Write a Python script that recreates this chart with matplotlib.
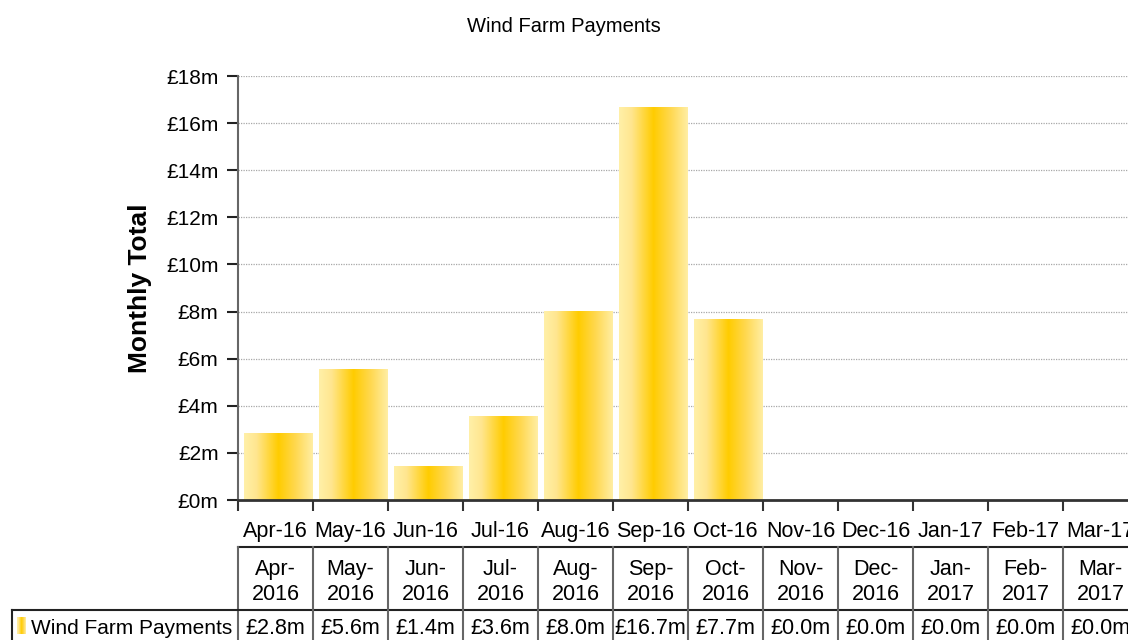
import numpy as np
import matplotlib
matplotlib.use("Agg")
import matplotlib.pyplot as plt
from matplotlib.colors import LinearSegmentedColormap
import matplotlib.transforms as mtransforms

plt.rcParams['font.family'] = ['Liberation Sans', 'DejaVu Sans']

months = ['Apr', 'May', 'Jun', 'Jul', 'Aug', 'Sep', 'Oct', 'Nov', 'Dec', 'Jan', 'Feb', 'Mar']
years = [2016, 2016, 2016, 2016, 2016, 2016, 2016, 2016, 2016, 2017, 2017, 2017]
values = [2.83, 5.56, 1.44, 3.57, 8.04, 16.68, 7.68, 0.0, 0.0, 0.0, 0.0, 0.0]
series_name = 'Wind Farm Payments'
yticks = [0, 2, 4, 6, 8, 10, 12, 14, 16, 18]

W, H = 1128, 640
fig = plt.figure(figsize=(W / 100, H / 100), dpi=100)
L, R, B, T = 238, 1138, 500, 76
ax = fig.add_axes([L / W, 1 - B / H, (R - L) / W, (B - T) / H])

n = len(months)
x = np.arange(n)
cmap = LinearSegmentedColormap.from_list(
    'g', [(0, '#FFF0A8'), (0.18, '#FFE690'), (0.5, '#FFCC00'), (0.75, '#FFD850'), (1, '#FFEEA4')])
grad = np.linspace(0, 1, 256).reshape(1, -1)
bars = ax.bar(x + 0.04, values, width=0.92, color='none', edgecolor='none', zorder=2)
for b in bars:
    if b.get_height() <= 0:
        continue
    x0, w, h = b.get_x(), b.get_width(), b.get_height()
    im = ax.imshow(grad, cmap=cmap, aspect='auto', extent=(x0, x0 + w, 0, h),
                   zorder=2, interpolation='bilinear')
    im.set_clip_path(b)

ax.set_xlim(-0.5, n - 0.5)
ax.set_ylim(0, 18)
ax.set_yticks(yticks)
ax.set_yticklabels([f'£{v}m' for v in yticks], fontsize=15)
ax.yaxis.grid(True, linestyle=(0, (1, 1)), color='#a8a8a8', linewidth=0.9, zorder=0)
ax.set_axisbelow(True)
ax.tick_params(axis='y', length=8, width=1.5, color='#222222', pad=6)

ax.set_xticks(x)
ax.set_xticklabels([f'{m}-{str(y)[2:]}' for m, y in zip(months, years)], fontsize=15.5)
ax.set_xticks(np.arange(n + 1) - 0.5, minor=True)
ax.tick_params(axis='x', which='major', length=0, pad=15)
ax.tick_params(axis='x', which='minor', length=8, width=1.5, color='#333333')

for s in ['top', 'right']:
    ax.spines[s].set_visible(False)
ax.spines['left'].set_color('#666666')
ax.spines['left'].set_linewidth(1.5)
ax.spines['bottom'].set_color('#333333')
ax.spines['bottom'].set_linewidth(2)

ax.set_ylabel('Monthly Total', fontsize=19, fontweight='bold', labelpad=10)
fig.text(564 / W, 1 - 27 / H, series_name, ha='center', va='center', fontsize=14.5)

# data table below
ov = fig.add_axes([0, 0, 1, 1], zorder=5)
ov.set_xlim(0, W)
ov.set_ylim(H, 0)
ov.axis('off')
tr = mtransforms.blended_transform_factory(ax.transData, ov.transData)

y_top, y_mid, y_bot = 547, 610, 650
edges = np.arange(n + 1) - 0.5
ov.plot([edges[0], edges[-1]], [y_top, y_top], color='#222222', lw=1.5, transform=tr, clip_on=False)
ov.plot([edges[0], edges[-1]], [y_mid, y_mid], color='#222222', lw=1.5, transform=tr, clip_on=False)
for e in edges:
    ov.plot([e, e], [y_top, y_bot], color='#666666', lw=1.5, transform=tr, clip_on=False)
ov.plot([12, 238], [y_mid, y_mid], color='#222222', lw=1.5, clip_on=False)
ov.plot([12, 12], [y_mid, y_bot], color='#222222', lw=1.5, clip_on=False)

for i in range(n):
    ov.text(x[i], 582, f'{months[i]}-\n{years[i]}', transform=tr, ha='center', va='center',
            fontsize=15.5, linespacing=1.3)
    ov.text(x[i], 628, f'£{values[i]:.1f}m', transform=tr, ha='center', va='center', fontsize=15.5)

ov.imshow(grad, cmap=cmap, aspect='auto', extent=(17, 26, 634, 617), zorder=3)
ov.set_xlim(0, W)
ov.set_ylim(H, 0)
ov.text(31, 628, series_name, ha='left', va='center', fontsize=15)

fig.savefig('out.png', dpi=100)
